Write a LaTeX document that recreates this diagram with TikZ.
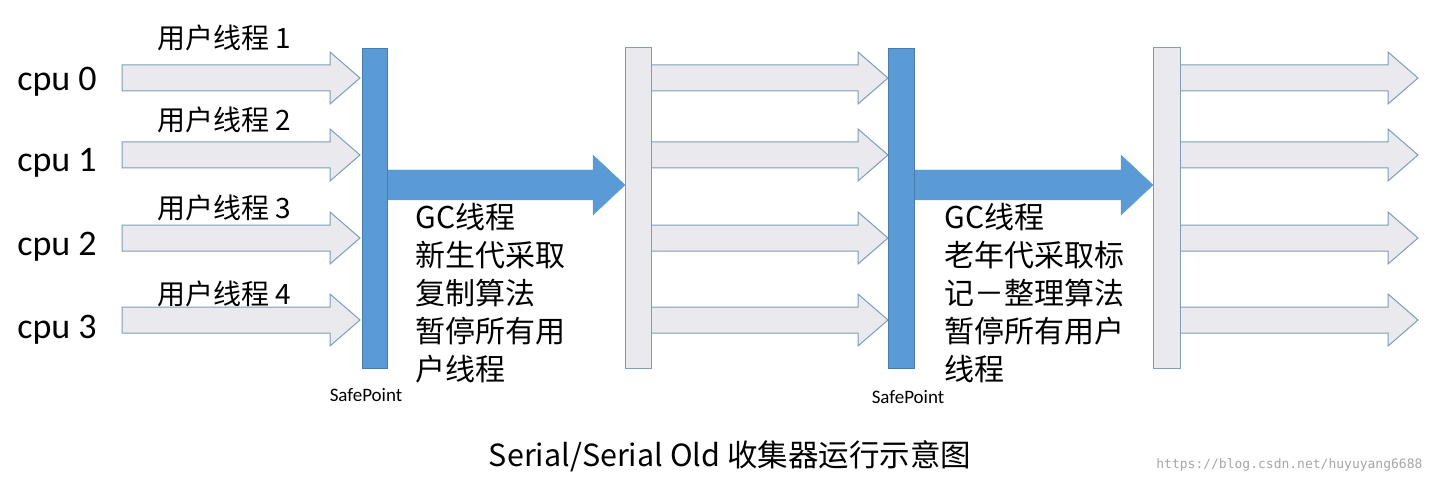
\documentclass[tikz,border=0pt]{standalone}
\usepackage{fontspec}
\setmainfont{Carlito}
\newfontfamily\cjk{Noto Sans CJK SC}
\setmonofont{DejaVu Sans Mono}
\usetikzlibrary{positioning}
\definecolor{gcblue}{HTML}{5B9BD5}
\definecolor{arrowline}{HTML}{7F9DB9}
\definecolor{arrowfill}{HTML}{E9E9EE}
\tikzset{
  thread/.style = {fill=arrowfill, draw=arrowline, line width=1pt},
  gcarrow/.style = {fill=gcblue, draw=gcblue},
  gcbar/.style = {fill=gcblue, draw=gcblue!80!black, line width=.8pt},
  runbar/.style = {fill=arrowfill, draw=arrowline, line width=1pt},
  cpulabel/.style = {font=\fontsize{36}{36}\selectfont, anchor=center},
  tlabel/.style = {font=\cjk\fontsize{28}{28}\selectfont, anchor=center},
  gctext/.style = {font=\cjk\fontsize{30}{38}\selectfont, align=left, anchor=north west},
  sp/.style = {font=\fontsize{19}{19}\selectfont, anchor=center},
}
% block arrow: x1, x2, y, half shaft, half head, head length
\newcommand{\blockarrow}[7]{%
  \draw[#7] (#1,#3-#4) -- (#2-#6,#3-#4) -- (#2-#6,#3-#5) -- (#2,#3)
    -- (#2-#6,#3+#5) -- (#2-#6,#3+#4) -- (#1,#3+#4) -- cycle;}
\begin{document}
\begin{tikzpicture}[x=1pt,y=-1pt]
  \useasboundingbox (0,0) rectangle (1436,484);
% thread arrows
  \foreach \yi in {78,155,238,320}{
    \blockarrow{122}{360}{\yi}{13}{26}{30}{thread}
    \blockarrow{651}{888}{\yi}{13}{26}{30}{thread}
    \blockarrow{1180}{1418}{\yi}{13}{26}{30}{thread}
  }
% gc arrows
  \blockarrow{387}{625}{185}{15}{30}{32}{gcarrow}
  \blockarrow{914}{1153}{185}{15}{30}{32}{gcarrow}
% bars
  \draw[gcbar]  (362,48) rectangle (387,368);
  \draw[runbar] (625,48) rectangle (651,368);
  \draw[gcbar]  (888,48) rectangle (914,368);
  \draw[runbar] (1153,48) rectangle (1180,368);
% labels
  \foreach \m/\yi in {0/82,1/163,2/247,3/330}{
    \node[cpulabel] (cpu\m) at (57,\yi) {cpu \m};
  }
  \foreach \m/\yi in {1/38,2/120,3/208,4/294}{
    \node[tlabel] (user\m) at (224,\yi) {用户线程 \m};
  }
  \node[gctext] (gcyoung) at (412,200) {GC线程\\新生代采取\\复制算法\\暂停所有用\\户线程};
  \node[gctext] (gcold) at (941,200) {GC线程\\老年代采取标\\记－整理算法\\暂停所有用户\\线程};
  \node[sp] (sp1) at (366,395) {SafePoint};
  \node[sp] (sp2) at (908,397) {SafePoint};
  \node[font=\cjk\fontsize{30.5}{30.5}\selectfont] (caption) at (730,456) {Serial/Serial Old 收集器运行示意图};
  \node[font=\ttfamily\fontsize{13}{13}\selectfont, text=black!35, anchor=east] (mark) at (1426,465) {https://blog.csdn.net/huyuyang6688};
\end{tikzpicture}
\end{document}
